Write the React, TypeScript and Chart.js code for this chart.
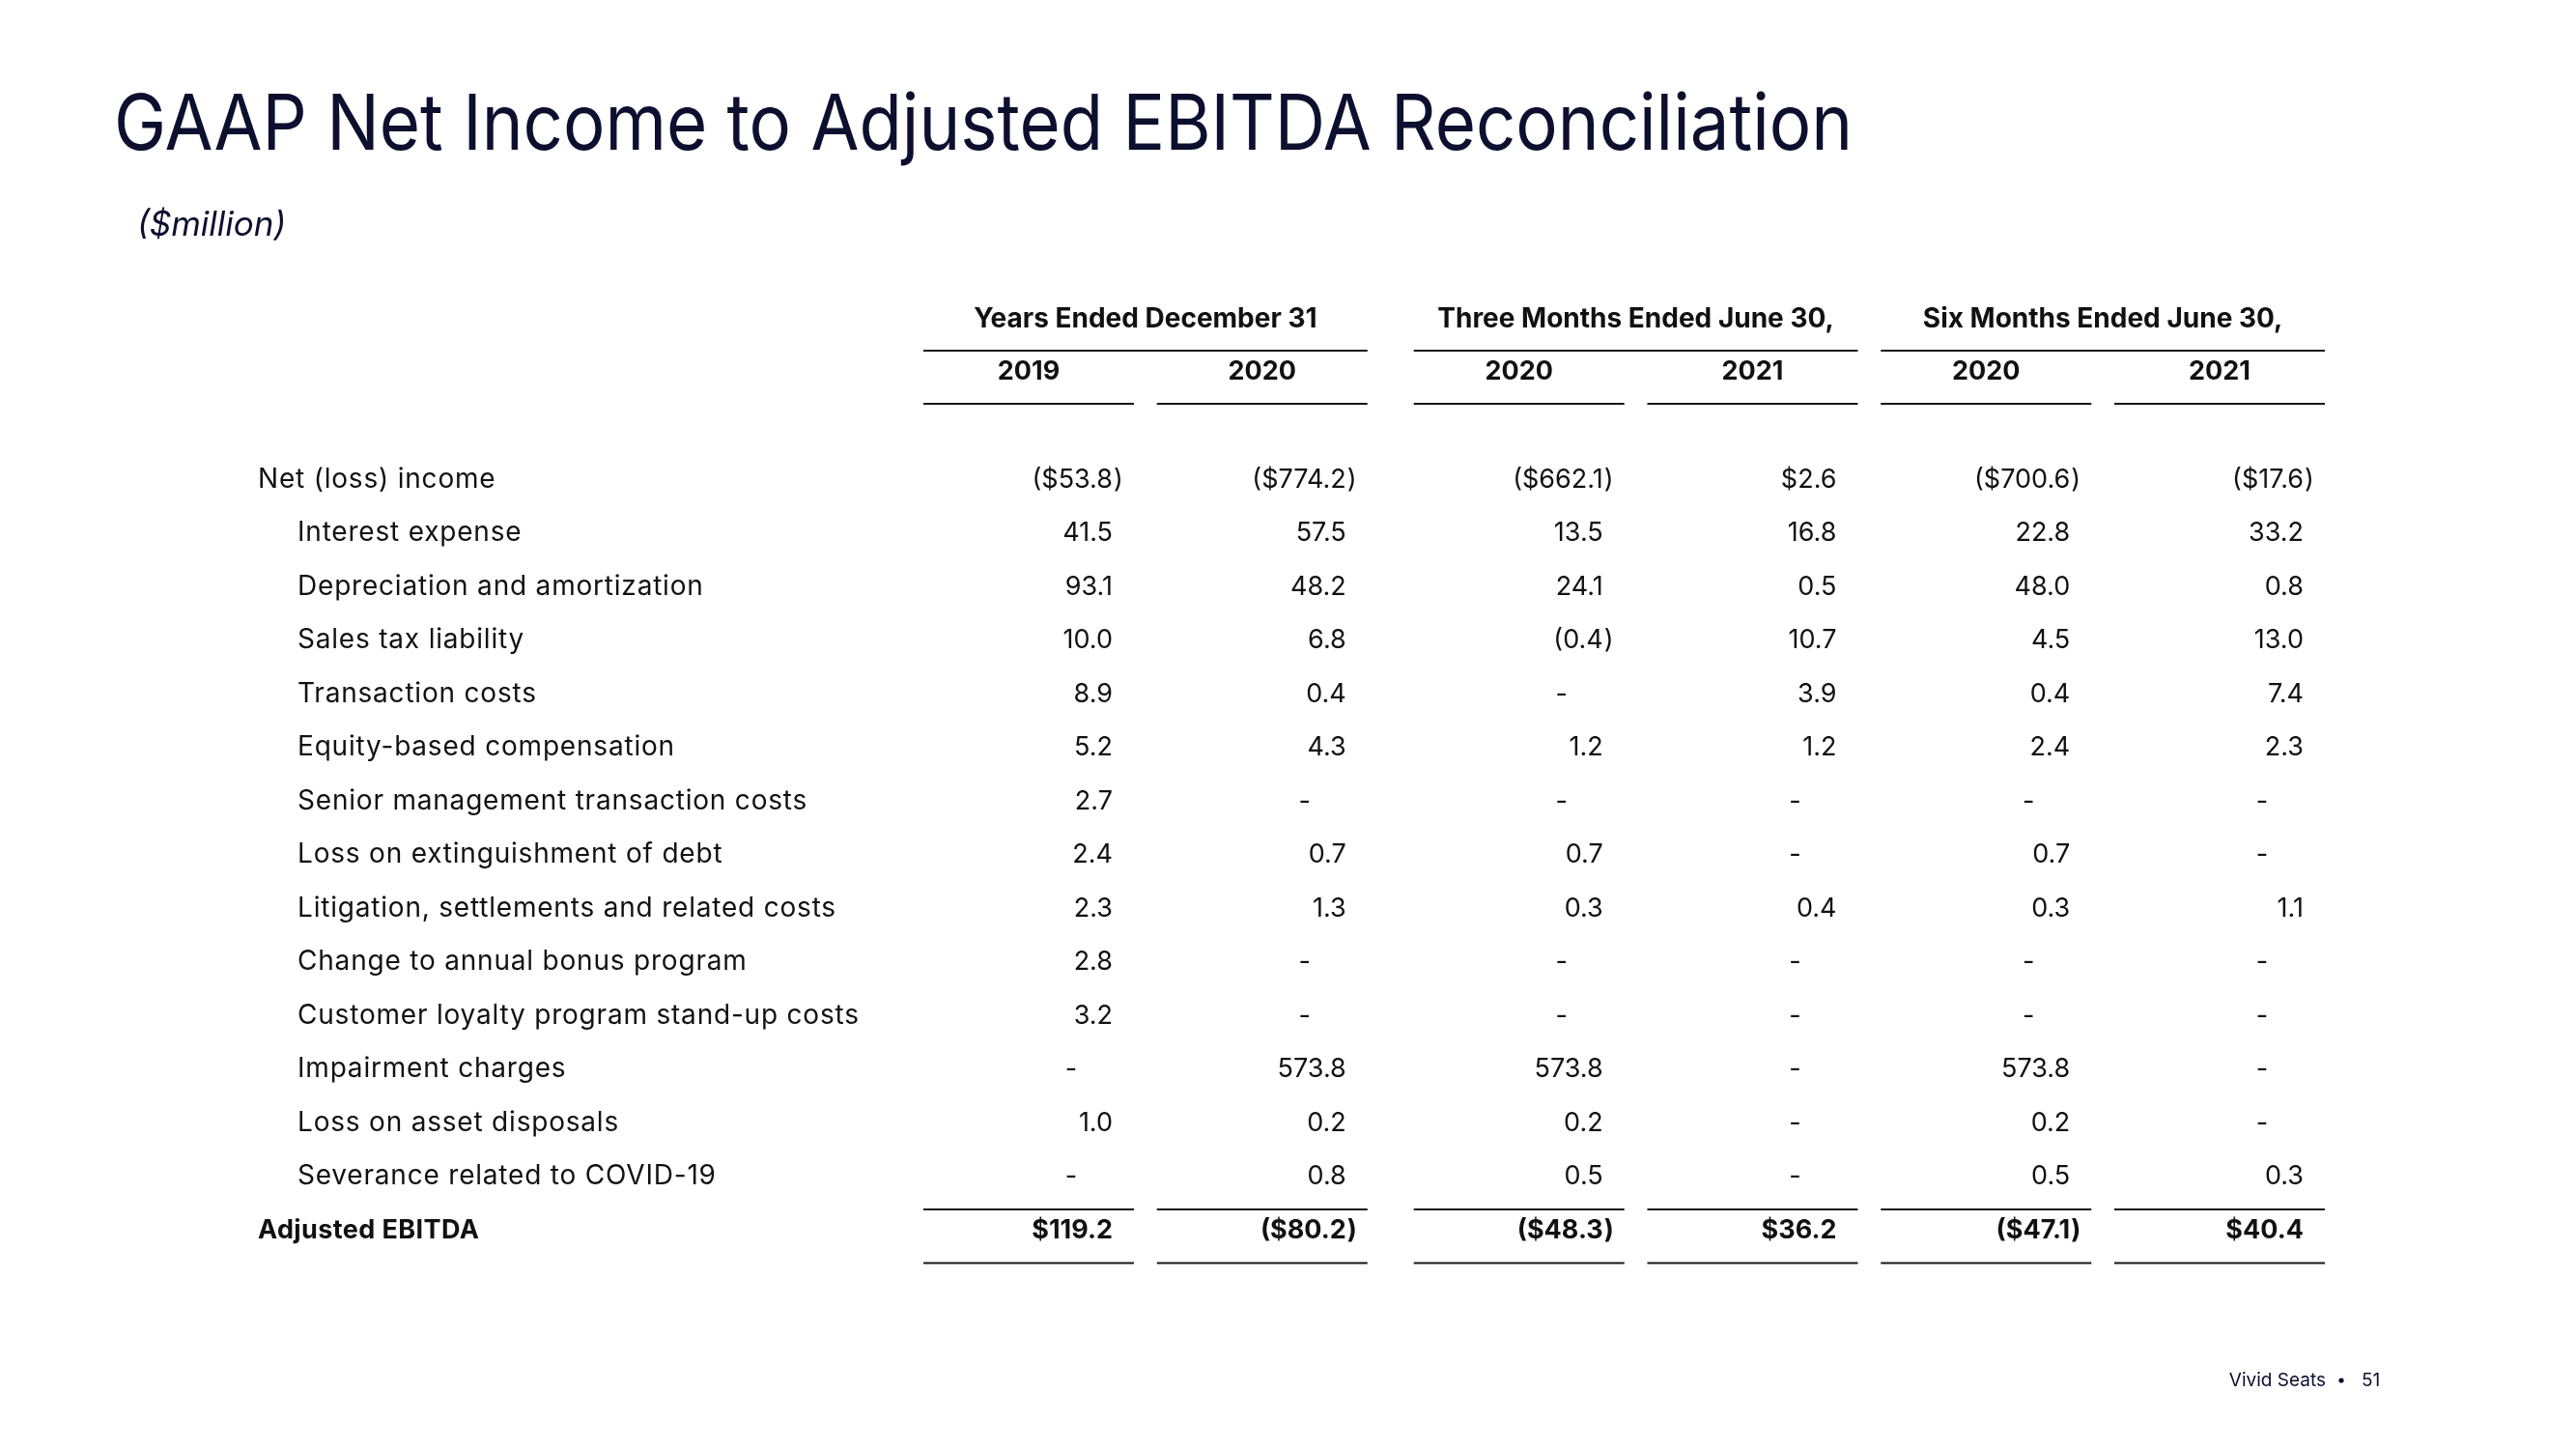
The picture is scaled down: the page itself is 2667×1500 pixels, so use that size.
import React, { useEffect, useRef } from "react";
import { Chart, registerables } from "chart.js";

Chart.register(...registerables);

// ---------- DATA ----------
const titleText = "GAAP Net Income to Adjusted EBITDA Reconciliation";
const unitText = "($million)";
const footerText = "Vivid Seats";
const pageNumber = "51";

const groupLabels = [
  "Years Ended December 31",
  "Three Months Ended June 30,",
  "Six Months Ended June 30,",
];
const columnYears = ["2019", "2020", "2020", "2021", "2020", "2021"];
const columnGroup = [0, 0, 1, 1, 2, 2];

const rowLabels = [
  "Net (loss) income",
  "Interest expense",
  "Depreciation and amortization",
  "Sales tax liability",
  "Transaction costs",
  "Equity-based compensation",
  "Senior management transaction costs",
  "Loss on extinguishment of debt",
  "Litigation, settlements and related costs",
  "Change to annual bonus program",
  "Customer loyalty program stand-up costs",
  "Impairment charges",
  "Loss on asset disposals",
  "Severance related to COVID-19",
  "Adjusted EBITDA",
];

// null = "-"
const fy2019 = [-53.8, 41.5, 93.1, 10.0, 8.9, 5.2, 2.7, 2.4, 2.3, 2.8, 3.2, null, 1.0, null, 119.2];
const fy2020 = [-774.2, 57.5, 48.2, 6.8, 0.4, 4.3, null, 0.7, 1.3, null, null, 573.8, 0.2, 0.8, -80.2];
const q2020 = [-662.1, 13.5, 24.1, -0.4, null, 1.2, null, 0.7, 0.3, null, null, 573.8, 0.2, 0.5, -48.3];
const q2021 = [2.6, 16.8, 0.5, 10.7, 3.9, 1.2, null, null, 0.4, null, null, null, null, null, 36.2];
const h2020 = [-700.6, 22.8, 48.0, 4.5, 0.4, 2.4, null, 0.7, 0.3, null, null, 573.8, 0.2, 0.5, -47.1];
const h2021 = [-17.6, 33.2, 0.8, 13.0, 7.4, 2.3, null, null, 1.1, null, null, null, null, 0.3, 40.4];

const columnValues = [fy2019, fy2020, q2020, q2021, h2020, h2021];

// ---------- LAYOUT / STYLE ----------
const W = 2667;
const H = 1500;
const COLUMN_SLOT = [0, 1, 2.1, 3.1, 4.1, 5.1];
const COL_W = 218;
const FONT = "Inter, 'Open Sans', sans-serif";
const NAVY = "#0c0f2e";
const INK = "#111111";

function formatValue(v: number | null, dollar: boolean) {
  if (v === null) return null;
  const s = (dollar ? "$" : "") + Math.abs(v).toFixed(1);
  return v < 0 ? { body: "(" + s, close: ")" } : { body: s, close: "" };
}

const tablePlugin = {
  id: "tableText",
  afterDatasetsDraw(chart: any) {
    const ctx: any = chart.ctx;
    const xs = chart.scales.x;
    const ys = chart.scales.y;
    ctx.save();
    ctx.textBaseline = "alphabetic";

    // title
    ctx.fillStyle = NAVY;
    ctx.textAlign = "left";
    ctx.font = `400 80px ${FONT}`;
    ctx.fillText(titleText, 118, 155, 1800);
    ctx.font = `italic 400 35px ${FONT}`;
    ctx.fillText(unitText, 142, 244);

    // footer
    ctx.font = `400 19px ${FONT}`;
    ctx.textAlign = "right";
    ctx.fillText(footerText, 2408, 1435);
    ctx.beginPath();
    ctx.arc(2424, 1429, 2.6, 0, Math.PI * 2);
    ctx.fill();
    ctx.textAlign = "left";
    ctx.fillText(pageNumber, 2445, 1435);

    ctx.fillStyle = INK;
    ctx.strokeStyle = "#161616";
    ctx.lineWidth = 2;

    // group headers + lines
    groupLabels.forEach((g, gi) => {
      const cols = columnGroup.map((cg, i) => (cg === gi ? i : -1)).filter((i) => i >= 0);
      const right = xs.getPixelForValue(COLUMN_SLOT[cols[cols.length - 1]]);
      const left = xs.getPixelForValue(COLUMN_SLOT[cols[0]]) - COL_W;
      ctx.font = `700 28px ${FONT}`;
      ctx.textAlign = "center";
      ctx.fillText(g, (left + right) / 2, 339, right - left - 40);
      ctx.beginPath();
      ctx.moveTo(left, 363);
      ctx.lineTo(right, 363);
      ctx.stroke();
    });

    // year headers + lines
    columnYears.forEach((yr, c) => {
      const right = xs.getPixelForValue(COLUMN_SLOT[c]);
      const left = right - COL_W;
      ctx.font = `700 27px ${FONT}`;
      ctx.textAlign = "center";
      ctx.fillText(yr, (left + right) / 2, 393);
      ctx.beginPath();
      ctx.moveTo(left, 418);
      ctx.lineTo(right, 418);
      ctx.stroke();
    });

    const lastRow = rowLabels.length - 1;

    // row labels
    rowLabels.forEach((lab, r) => {
      const y = ys.getPixelForValue(r) + 9;
      const isTotal = r === lastRow;
      ctx.font = `${isTotal ? 700 : 400} ${isTotal ? 27 : 28}px ${FONT}`;
      ctx.letterSpacing = isTotal ? "0.4px" : "0.8px";
      ctx.textAlign = "left";
      ctx.fillText(lab, r === 0 || isTotal ? 267 : 308, y);
    });
    ctx.letterSpacing = "0px";

    // values
    chart.data.datasets.forEach((ds: any, c: number) => {
      const meta = chart.getDatasetMeta(c);
      meta.data.forEach((pt: any, r: number) => {
        const raw = ds.data[r];
        const isTotal = r === lastRow;
        const f = formatValue(raw.v, r === 0 || isTotal);
        const ax = pt.x - 22;
        const y = pt.y + 9;
        ctx.font = `${isTotal ? 700 : 400} 27px ${FONT}`;
        if (!f) {
          ctx.textAlign = "center";
          ctx.fillText("-", ax - 43, y);
          return;
        }
        ctx.textAlign = "right";
        ctx.fillText(f.body, ax, y);
        if (f.close) {
          ctx.textAlign = "left";
          ctx.fillText(f.close, ax + 1, y);
        }
      });
      // total lines
      const right = xs.getPixelForValue(COLUMN_SLOT[c]);
      const left = right - COL_W;
      const yTot = ys.getPixelForValue(lastRow);
      ctx.beginPath();
      ctx.moveTo(left, yTot - 20.5);
      ctx.lineTo(right, yTot - 20.5);
      ctx.moveTo(left, yTot + 35);
      ctx.lineTo(right, yTot + 35);
      ctx.stroke();
    });

    ctx.restore();
  },
};

export default function App() {
  const ref = useRef<HTMLCanvasElement | null>(null);

  useEffect(() => {
    document.body.style.margin = "0";
    const canvas = ref.current;
    if (!canvas) return;
    const datasets = columnValues.map((vals, c) => ({
      label: `${groupLabels[columnGroup[c]]} ${columnYears[c]}`,
      data: vals.map((v, r) => ({ x: COLUMN_SLOT[c], y: r, v })),
      pointRadius: 0,
      pointHoverRadius: 0,
      showLine: false,
    }));
    const chart = new Chart(canvas, {
      type: "scatter",
      data: { datasets },
      options: {
        animation: false,
        responsive: false,
        devicePixelRatio: 1,
        events: [],
        layout: {
          padding: { left: 1174, right: W - 2407, top: 495.5, bottom: H - 1272.5 },
        },
        plugins: {
          legend: { display: false },
          tooltip: { enabled: false },
          title: { display: false },
        },
        scales: {
          x: { type: "linear", min: 0, max: 5.1, display: false },
          y: { type: "linear", min: 0, max: rowLabels.length - 1, reverse: true, display: false },
        },
      },
      plugins: [tablePlugin],
    } as any);
    return () => chart.destroy();
  }, []);

  return (
    <div style={{ width: W, height: H, background: "#ffffff", position: "absolute", left: 0, top: 0 }}>
      <canvas ref={ref} width={W} height={H} style={{ width: W, height: H, display: "block" }} />
    </div>
  );
}
